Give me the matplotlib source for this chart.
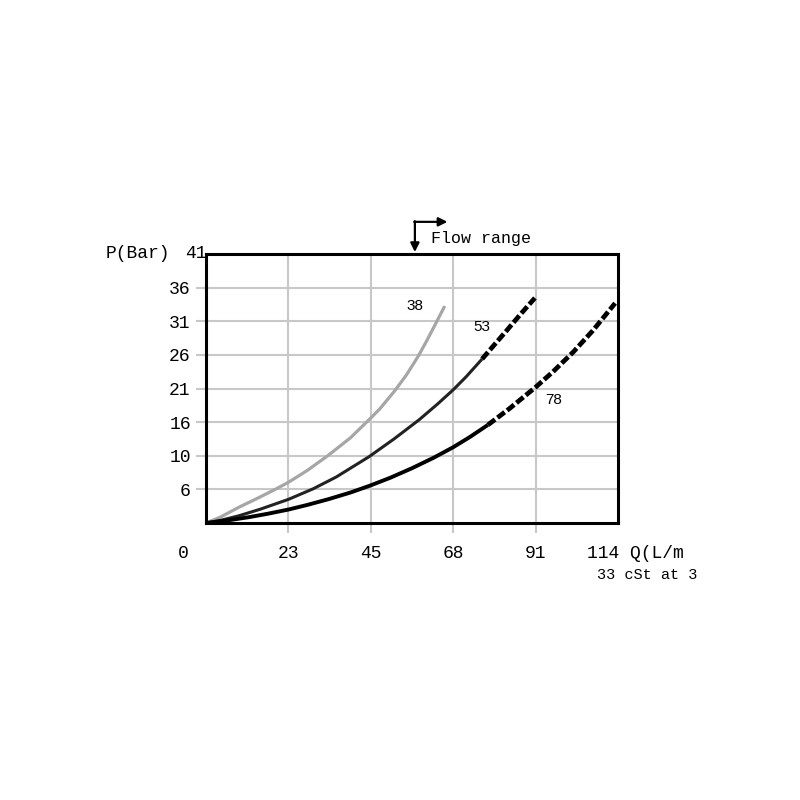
import matplotlib
matplotlib.use('Agg')
import matplotlib.pyplot as plt
import numpy as np

# pressure drop curves, Q in L/min, P in bar
q_38 = [0, 4, 9.1, 14, 19.4, 22.8, 28, 33.8, 40, 45.4, 48.1, 52.3, 55.5, 58.7, 61, 63.1, 65.9]
p_38 = [0, 0.9, 2.4, 3.7, 5.2, 6.2, 8.0, 10.3, 13.0, 15.9, 17.4, 20.2, 22.6, 25.4, 27.7, 29.9, 32.9]

q_53 = [0, 4, 9.1, 15, 22.8, 29.6, 36, 45.1, 52, 58.9, 64, 68.4, 72, 76.4, 80, 83.3, 87, 91.0]
p_53 = [0, 0.4, 1.1, 2.1, 3.6, 5.2, 7.0, 10.1, 12.8, 15.7, 18.1, 20.3, 22.3, 25.0, 27.3, 29.4, 31.8, 34.3]
dash_53 = 76.4

q_78 = [0, 6, 12, 17, 22.8, 28, 34, 40, 45.4, 51, 57, 63, 68.4, 73, 78,
        84, 91.3, 96, 101.6, 107, 113.2]
p_78 = [0, 0.4, 0.9, 1.4, 2.05, 2.75, 3.65, 4.65, 5.7, 6.9, 8.35, 9.95, 11.55, 13.1, 14.95,
        17.45, 20.75, 23.05, 26.05, 29.3, 33.5]
dash_78 = 78

x_ticks = [22.8, 45.6, 68.4, 91.2]
x_labels = ['23', '45', '68', '91']
y_ticks = [41 * i / 8 for i in range(1, 8)]
y_labels = ['6', '10', '16', '21', '26', '31', '36']

mono = 'Liberation Mono'
grid_c = '#c8c8c8'

fig = plt.figure(figsize=(8, 8), dpi=100)
fig.patch.set_facecolor('white')
ax = fig.add_axes([206 / 800, 1 - 523 / 800, 412 / 800, 269 / 800])
ax.set_xlim(0, 114)
ax.set_ylim(0, 41)

ax.set_xticks(x_ticks)
ax.set_xticklabels(x_labels, fontfamily=mono, fontsize=13)
ax.set_yticks(y_ticks)
ax.set_yticklabels(y_labels, fontfamily=mono, fontsize=13)
ax.tick_params(axis='both', direction='out', length=7, width=1.5, color=grid_c)
ax.tick_params(axis='x', pad=9)
ax.tick_params(axis='y', pad=4)
ax.grid(True, color=grid_c, linewidth=1.5)
ax.set_axisbelow(True)
for s in ax.spines.values():
    s.set_linewidth(2.2)
    s.set_color('black')


def draw(q, p, color, lw, dash_from=None):
    q = np.array(q)
    p = np.array(p)
    if dash_from is None:
        ax.plot(q, p, color=color, lw=lw, solid_joinstyle='round', solid_capstyle='round')
        return
    m = q <= dash_from
    ax.plot(q[m], p[m], color=color, lw=lw, solid_joinstyle='round', solid_capstyle='butt')
    m2 = q >= dash_from
    ax.plot(q[m2], p[m2], color='black', lw=3.4,
            linestyle=(0, (1.9, 0.65)), dash_capstyle='butt', dash_joinstyle='round')


draw(q_38, p_38, '#a6a6a6', 2.3)
draw(q_53, p_53, '#222222', 2.2, dash_53)
draw(q_78, p_78, '#000000', 2.8, dash_78)

ax.text(57.8, 33.0, '38', fontsize=11, fontfamily='Liberation Sans', ha='center', va='center')
ax.text(76.3, 29.9, '53', fontsize=11, fontfamily='Liberation Sans', ha='center', va='center')
ax.text(96.1, 18.8, '78', fontsize=11, fontfamily='Liberation Sans', ha='center', va='center')

# flow range marker
ax.annotate('', xy=(57.8, 41.3), xytext=(57.8, 46.0), annotation_clip=False,
            arrowprops=dict(arrowstyle='-|>', color='black', lw=1.6, mutation_scale=13,
                            shrinkA=0, shrinkB=0))
ax.annotate('', xy=(66.8, 45.9), xytext=(57.6, 45.9), annotation_clip=False,
            arrowprops=dict(arrowstyle='-|>', color='black', lw=1.6, mutation_scale=13,
                            shrinkA=0, shrinkB=0))
ax.text(62.3, 43.4, 'Flow range', fontfamily=mono, fontsize=12, ha='left', va='center',
        clip_on=False)

fig.text(170 / 800, 1 - 254 / 800, 'P(Bar)', fontfamily=mono, fontsize=13, ha='right', va='center')
fig.text(185 / 800, 1 - 254 / 800, '41', fontfamily=mono, fontsize=13, ha='left', va='center')
fig.text(183 / 800, 1 - 553 / 800, '0', fontfamily=mono, fontsize=13, ha='center', va='center')
fig.text(587 / 800, 1 - 553 / 800, '114 Q(L/m', fontfamily=mono, fontsize=13, ha='left', va='center')
fig.text(697 / 800, 1 - 575 / 800, '33 cSt at 3', fontfamily=mono, fontsize=11, ha='right', va='center')

fig.savefig('out.png', dpi=100, facecolor='white')
